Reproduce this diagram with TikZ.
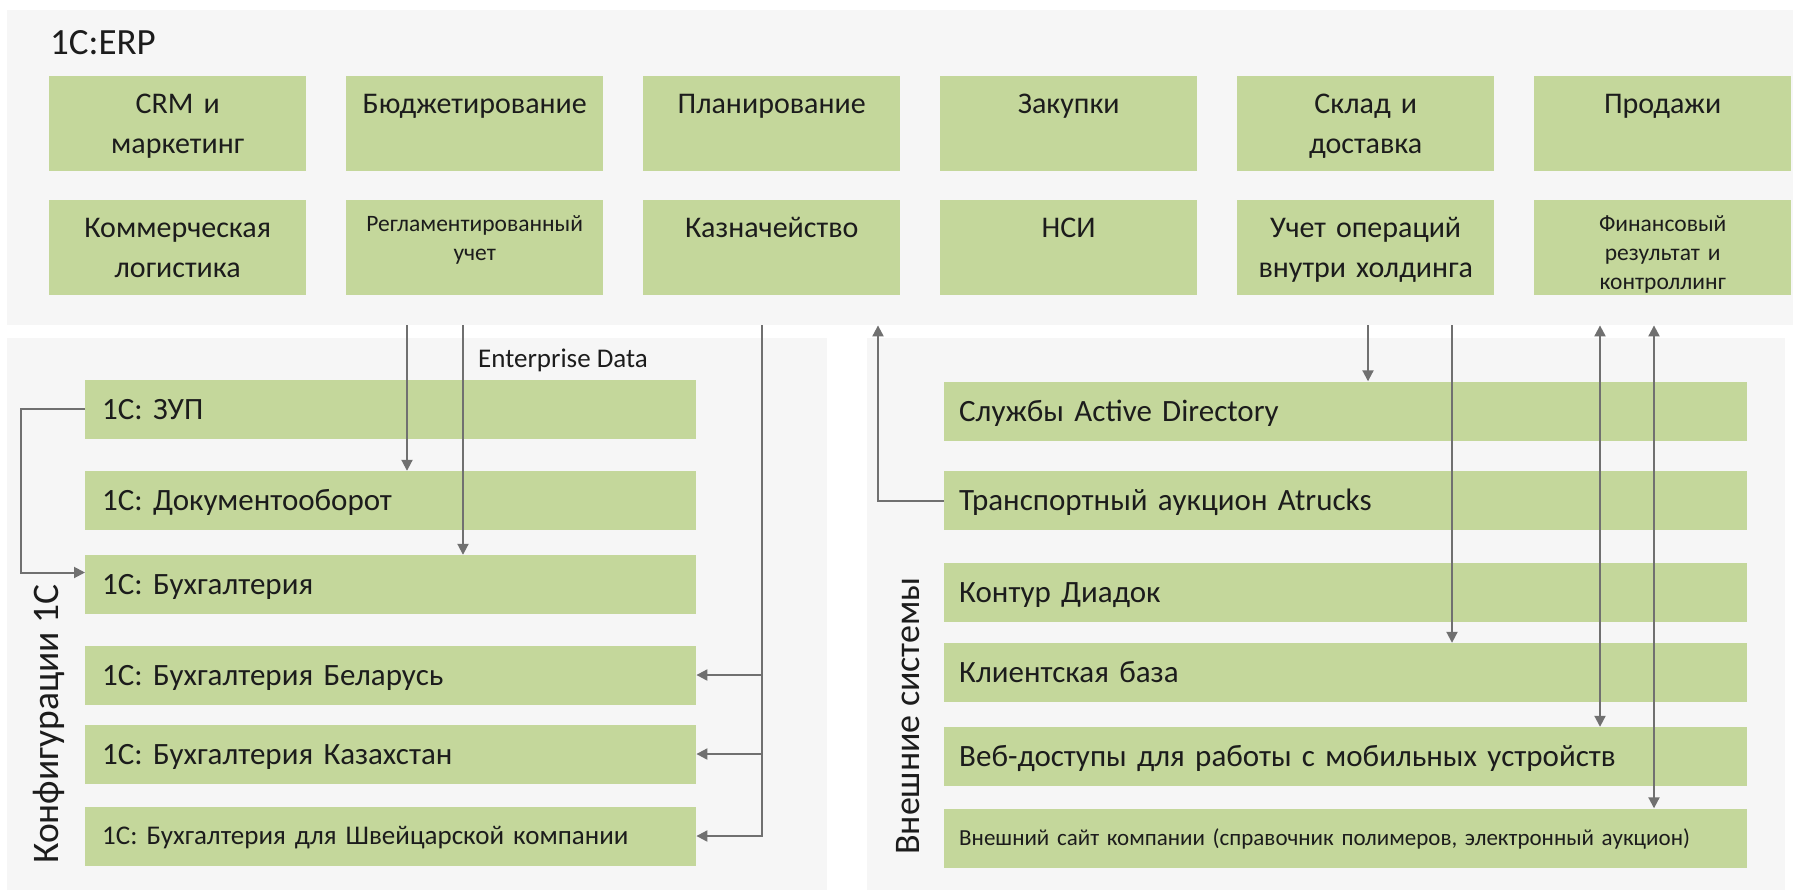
\documentclass[tikz,border=0pt]{standalone}
\usepackage{fontspec}
\setmainfont{Carlito}
\usetikzlibrary{arrows.meta}

\definecolor{panelgray}{RGB}{246,246,246}
\definecolor{boxgreen}{RGB}{196,215,155}
\definecolor{linegray}{RGB}{112,112,112}
\definecolor{textdark}{RGB}{28,28,28}
\newcommand{\fsz}[2]{\fontsize{#1}{#2}\selectfont}

\begin{document}
\begin{tikzpicture}[x=1pt,y=-1pt,
    panel/.style={fill=panelgray, inner sep=0pt, anchor=north west},
    erpbox/.style={fill=boxgreen, text=textdark, inner sep=0pt, anchor=north west,
      text width=257pt, align=center, text height=37pt, text depth=58pt, font=\fsz{30}{40}},
    erpsmall/.style={font=\fsz{23.5}{29}, text height=31pt, text depth=64pt},
    sysbox/.style={fill=boxgreen, text=textdark, anchor=west, inner ysep=0pt, align=left,
      minimum height=59pt, text height=20pt, text depth=0pt, font=\fsz{31}{37}},
    confbox/.style={sysbox, inner xsep=17pt, text width=577pt},
    extbox/.style={sysbox, inner xsep=15pt, text width=773pt},
    sidelabel/.style={rotate=90, anchor=west, text=textdark, font=\fsz{36}{42}, inner sep=0pt},
    arr/.style={draw=linegray, line width=2pt, -{Triangle[length=11pt,width=11pt]}},
    arrboth/.style={arr, {Triangle[length=11pt,width=11pt]}-{Triangle[length=11pt,width=11pt]}}]
    \fill[white] (0,0) rectangle (1793,894);
    \useasboundingbox (0,0) rectangle (1793,894);
    % panels
    \node[panel, minimum width=1786pt, minimum height=315pt] (erp)  at (7,10)   {};
    \node[panel, minimum width=820pt,  minimum height=552pt] (conf) at (7,338)  {};
    \node[panel, minimum width=918pt,  minimum height=552pt] (ext)  at (867,338) {};
    \node[anchor=base west, text=textdark, font=\fsz{37}{44}, inner sep=0pt] (title) at (50,54) {1C:ERP};
    % 1C:ERP modules
    \node[erpbox] (crm)    at (49,76)    {CRM и\\маркетинг};
    \node[erpbox] (budget) at (346,76)   {Бюджетирование};
    \node[erpbox] (plan)   at (643,76)   {Планирование};
    \node[erpbox] (buy)    at (940,76)   {Закупки};
    \node[erpbox] (store)  at (1237,76)  {Склад и\\доставка};
    \node[erpbox] (sales)  at (1534,76)  {Продажи};
    \node[erpbox] (logist) at (49,200)   {Коммерческая\\логистика};
    \node[erpbox, erpsmall] (reg) at (346,200) {Регламентированный\\учет};
    \node[erpbox] (treas)  at (643,200)  {Казначейство};
    \node[erpbox] (nsi)    at (940,200)  {НСИ};
    \node[erpbox] (hold)   at (1237,200) {Учет операций\\внутри холдинга};
    \node[erpbox, erpsmall] (fin) at (1534,200) {Финансовый\\результат и\\контроллинг};
    % 1C configurations
    \node[confbox] (zup)  at (85,409)   {1С: ЗУП};
    \node[confbox] (docs) at (85,500.5) {1С: Документооборот};
    \node[confbox] (buh)  at (85,584.5) {1С: Бухгалтерия};
    \node[confbox] (bel)  at (85,675)   {1С: Бухгалтерия Беларусь};
    \node[confbox] (kaz)  at (85,754)   {1С: Бухгалтерия Казахстан};
    \node[confbox, font=\fsz{27}{32}, text height=17.4pt] (swiss) at (85,836) {1С: Бухгалтерия для Швейцарской компании};
    % external systems
    \node[extbox] (ad)     at (944,411)   {Службы Active Directory};
    \node[extbox] (atr)    at (944,500.5) {Транспортный аукцион Atrucks};
    \node[extbox] (diadoc) at (944,592.5) {Контур Диадок};
    \node[extbox] (client) at (944,672.5) {Клиентская база};
    \node[extbox] (web)    at (944,756.5) {Веб-доступы для работы с мобильных устройств};
    \node[extbox, font=\fsz{23}{28}, text height=14.8pt] (site) at (944,838) {Внешний сайт компании (справочник полимеров, электронный аукцион)};
    \node[sidelabel, font=\fsz{37.5}{44}] (conflbl) at (49,864) {Конфигурации 1С};
    \node[sidelabel] (extlbl)  at (908,855) {Внешние системы};
    \node[anchor=base west, text=textdark, font=\fsz{27}{32}, inner sep=0pt] (edata) at (478,367) {Enterprise Data};
    % exchanges
    \draw[arr] (erp.south -| 407,0) -- (docs.north -| 407,0);
    \draw[arr] (erp.south -| 463,0) -- (buh.north -| 463,0);
    \draw[arr] (erp.south -| 762,0) |- (swiss.east);
    \draw[arr] (bel.east -| 762,0) -- (bel.east);
    \draw[arr] (kaz.east -| 762,0) -- (kaz.east);
    \draw[arr] (zup.west) -- (zup.west -| 21,0) |- ([yshift=12pt]buh.west);
    \draw[arr] (atr.west) -| (erp.south -| 878,0);
    \draw[arr] (erp.south -| 1368,0) -- (ad.north -| 1368,0);
    \draw[arr] (erp.south -| 1452,0) -- (client.north -| 1452,0);
    \draw[arrboth] (erp.south -| 1600,0) -- (web.north -| 1600,0);
    \draw[arrboth] (erp.south -| 1654,0) -- (site.north -| 1654,0);
\end{tikzpicture}
\end{document}
